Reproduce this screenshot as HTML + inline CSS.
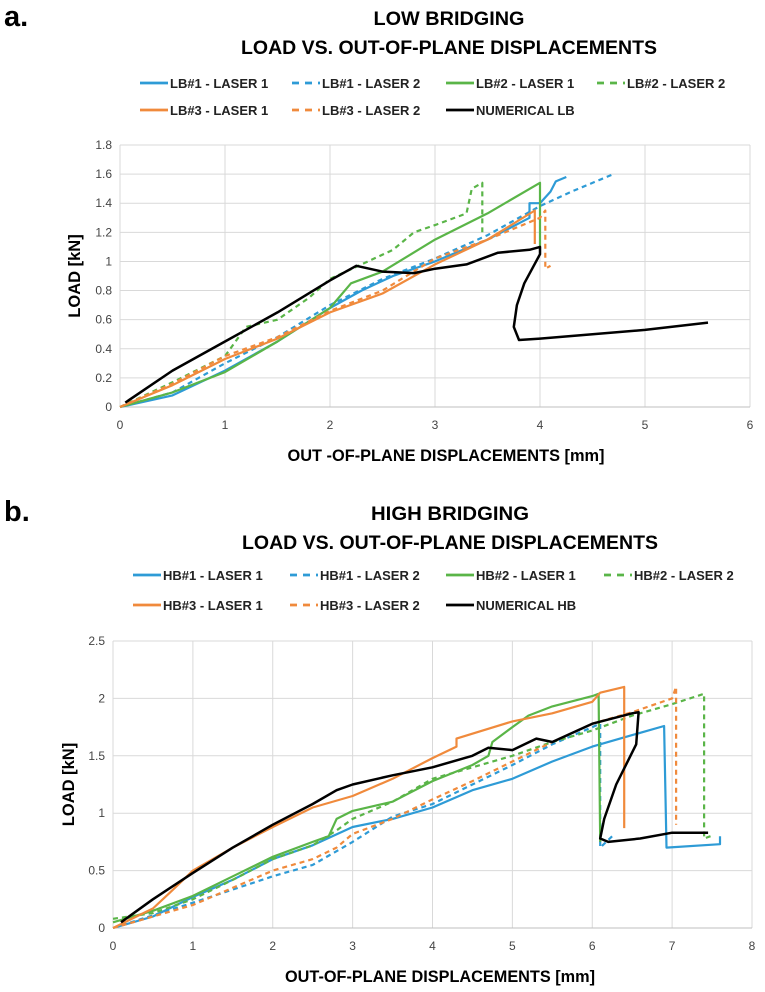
<!DOCTYPE html>
<html><head><meta charset="utf-8">
<style>
body{margin:0;background:#fff;width:765px;height:992px;overflow:hidden;font-family:"Liberation Sans",sans-serif}
svg{display:block}
</style></head>
<body>
<svg id="svg" width="765" height="992" xmlns="http://www.w3.org/2000/svg"></svg>
<script>
// ---- Chart A data ----
const aXTicks=[0,1,2,3,4,5,6];
const aYTicks=[0,0.2,0.4,0.6,0.8,1,1.2,1.4,1.6,1.8];
const aNames=["LB#1 - LASER 1","LB#1 - LASER 2","LB#2 - LASER 1","LB#2 - LASER 2","LB#3 - LASER 1","LB#3 - LASER 2","NUMERICAL LB"];
const aS1=[[0,0],[0.5,0.08],[1,0.25],[1.5,0.45],[2,0.68],[2.3,0.8],[2.6,0.9],[3,1.0],[3.5,1.15],[3.9,1.3],[3.9,1.4],[4.0,1.4],[4.1,1.48],[4.15,1.55],[4.25,1.58]];
const aS2=[[0,0],[0.5,0.1],[1,0.3],[1.5,0.48],[2,0.7],[2.5,0.88],[3,1.02],[3.5,1.18],[4,1.38],[4.3,1.48],[4.7,1.6]];
const aS3=[[0,0],[0.5,0.1],[1,0.24],[1.5,0.45],[2,0.68],[2.2,0.85],[2.5,0.93],[3,1.15],[3.5,1.33],[4,1.54],[4,1.1]];
const aS4=[[0,0],[0.5,0.17],[1,0.35],[1.2,0.55],[1.5,0.6],[1.8,0.75],[2,0.88],[2.3,0.98],[2.6,1.08],[2.8,1.2],[3,1.25],[3.3,1.33],[3.35,1.5],[3.45,1.54],[3.45,1.2]];
const aS5=[[0,0],[0.5,0.15],[1,0.33],[1.5,0.47],[2,0.65],[2.5,0.78],[3,0.98],[3.5,1.15],[3.95,1.35],[3.95,1.12]];
const aS6=[[0,0],[0.5,0.16],[1,0.35],[1.5,0.48],[2,0.66],[2.5,0.8],[3,1.02],[3.5,1.15],[4,1.3],[4.05,1.35],[4.05,0.95],[4.1,0.97]];
const aS7=[[0.05,0.03],[0.5,0.25],[1,0.45],[1.5,0.65],[2,0.87],[2.25,0.97],[2.5,0.93],[2.8,0.92],[3,0.95],[3.3,0.98],[3.6,1.06],[3.9,1.08],[4,1.1],[4,1.05],[3.85,0.85],[3.78,0.7],[3.75,0.55],[3.8,0.46],[4,0.47],[4.5,0.5],[5,0.53],[5.6,0.58]];
// ---- Chart B data ----
const bXTicks=[0,1,2,3,4,5,6,7,8];
const bYTicks=[0,0.5,1,1.5,2,2.5];
const bNames=["HB#1 - LASER 1","HB#1 - LASER 2","HB#2 - LASER 1","HB#2 - LASER 2","HB#3 - LASER 1","HB#3 - LASER 2","NUMERICAL HB"];
const bS1=[[0,0],[0.5,0.1],[1,0.27],[1.5,0.42],[2,0.6],[2.5,0.72],[3,0.88],[3.5,0.95],[4,1.05],[4.5,1.2],[5,1.3],[5.5,1.45],[6,1.58],[6.5,1.68],[6.9,1.76],[6.93,0.7],[7.6,0.73],[7.6,0.8]];
const bS2=[[0,0],[1,0.22],[2,0.45],[2.5,0.55],[3,0.75],[3.5,0.97],[4,1.08],[4.5,1.25],[5,1.42],[5.5,1.6],[6,1.75],[6.1,1.78],[6.1,0.7],[6.25,0.8]];
const bS3=[[0,0.05],[0.5,0.15],[1,0.28],[1.5,0.45],[2,0.62],[2.5,0.75],[2.7,0.8],[2.8,0.95],[3,1.02],[3.5,1.1],[4,1.28],[4.5,1.42],[4.7,1.5],[4.75,1.62],[5,1.75],[5.2,1.85],[5.5,1.93],[6,2.02],[6.08,2.04],[6.1,0.75]];
const bS4=[[0,0.08],[0.5,0.13],[1,0.25],[1.5,0.42],[2,0.6],[2.5,0.72],[2.8,0.85],[3,0.95],[3.5,1.1],[4,1.3],[4.5,1.4],[5,1.5],[5.5,1.62],[6,1.72],[6.5,1.85],[7,1.95],[7.4,2.04],[7.4,0.78],[7.48,0.8]];
const bS5=[[0,0],[0.5,0.17],[0.7,0.3],[1,0.5],[1.5,0.7],[2,0.88],[2.5,1.05],[3,1.15],[3.5,1.3],[4,1.48],[4.3,1.58],[4.3,1.65],[5,1.8],[5.5,1.87],[6,1.97],[6.1,2.05],[6.4,2.1],[6.4,0.87]];
const bS6=[[0,0],[1,0.2],[1.5,0.35],[2,0.5],[2.5,0.6],[2.8,0.7],[3,0.82],[3.5,0.95],[4,1.12],[4.5,1.28],[5,1.45],[5.5,1.62],[6,1.78],[6.5,1.88],[7,2.0],[7.05,2.1],[7.05,0.9]];
const bS7=[[0.1,0.05],[0.5,0.25],[1,0.48],[1.5,0.7],[2,0.9],[2.5,1.08],[2.8,1.2],[3,1.25],[3.5,1.33],[4,1.4],[4.5,1.5],[4.7,1.57],[5,1.55],[5.3,1.65],[5.5,1.62],[6,1.78],[6.5,1.87],[6.58,1.88],[6.55,1.6],[6.3,1.25],[6.15,0.95],[6.1,0.78],[6.2,0.75],[6.6,0.78],[7,0.83],[7.45,0.83]];

const COLORS=["#2e9bd6","#2e9bd6","#5ab548","#5ab548","#f08a3c","#f08a3c","#000"];
const DASH=[null,"5,4",null,"5,4",null,"5,4",null];
const NS="http://www.w3.org/2000/svg";
const svg=document.getElementById('svg');
function mk(tag,attrs,parent){const e=document.createElementNS(NS,tag);for(const k in attrs)e.setAttribute(k,attrs[k]);(parent||svg).appendChild(e);return e;}
function txt(s,attrs,parent){const e=mk('text',attrs,parent);e.textContent=s;return e;}

function chart(cfg){
  const g=mk('g',{});
  
  
  const sx=v=>cfg.x0+(v-cfg.xmin)/(cfg.xmax-cfg.xmin)*(cfg.x1-cfg.x0);
  const sy=v=>cfg.y0-(v-cfg.ymin)/(cfg.ymax-cfg.ymin)*(cfg.y0-cfg.y1);
  const lab=txt(cfg.letter,{x:4,y:cfg.titleY+8,'font-size':29,'font-weight':'bold',fill:'#000'},g);
  
  
  const t1=txt(cfg.title1,{x:cfg.tcx,y:cfg.titleY+7,'text-anchor':'middle','font-size':19,'font-weight':'bold',fill:'#000',textLength:cfg.t1w,lengthAdjust:'spacingAndGlyphs'},g);
  
  
  const t2=txt("LOAD VS. OUT-OF-PLANE DISPLACEMENTS",{x:cfg.tcx,y:cfg.titleY+36,'text-anchor':'middle','font-size':19,'font-weight':'bold',fill:'#000',textLength:416,lengthAdjust:'spacingAndGlyphs'},g);
  
  
  cfg.names.forEach((n,i)=>{
    const row=i<4?0:1, col=i<4?i:i-4;
    const lx=cfg.legX[col], ly=cfg.legY[row];
    const lg=mk('g',{},g);
    
    
    const ln=mk('line',{x1:lx,y1:ly,x2:lx+28,y2:ly,stroke:COLORS[i],'stroke-width':2.8},lg);
    if(DASH[i])ln.setAttribute('stroke-dasharray','7,6');
    txt(n,{x:lx+30,y:ly+5,'font-size':13,'font-weight':'bold',fill:'#222'},lg);
  });
  cfg.yt.forEach(v=>{
    const l=mk('line',{x1:cfg.x0,x2:cfg.x1,y1:sy(v),y2:sy(v),stroke:'#d9d9d9','stroke-width':1},g);
    
    
    const t=txt(String(v),{x:cfg.x0-8,y:sy(v)+4,'text-anchor':'end','font-size':12,fill:'#444'},g);
    
    
  });
  cfg.xt.forEach(v=>{
    const l=mk('line',{x1:sx(v),x2:sx(v),y1:cfg.y0,y2:cfg.y1,stroke:'#d9d9d9','stroke-width':1},g);
    
    
    const t=txt(String(v),{x:sx(v),y:cfg.y0+22,'text-anchor':'middle','font-size':12,fill:'#444'},g);
    
    
  });
  const xa=mk('line',{x1:cfg.x0,x2:cfg.x1,y1:cfg.y0,y2:cfg.y0,stroke:'#bfbfbf','stroke-width':1},g);
  
  
  const xt=txt(cfg.xtitle,{x:cfg.xtcx,y:cfg.y0+54,'text-anchor':'middle','font-size':16.5,'font-weight':'bold',fill:'#000',textLength:cfg.xtw,lengthAdjust:'spacingAndGlyphs'},g);
  
  
  const ym=(cfg.y0+cfg.y1)/2;
  const yt=txt("LOAD [kN]",{x:cfg.ytx,y:ym,'text-anchor':'middle','font-size':16.5,'font-weight':'bold',fill:'#000',transform:`rotate(-90 ${cfg.ytx} ${ym})`},g);
  
  
  cfg.series.forEach((s,i)=>{
    const p=mk('polyline',{points:s.map(d=>sx(d[0]).toFixed(1)+','+sy(d[1]).toFixed(1)).join(' '),fill:'none',stroke:COLORS[i],'stroke-width':i==6?2.5:2.2,'stroke-linejoin':'round'},g);
    if(DASH[i])p.setAttribute('stroke-dasharray',DASH[i]);
    
    
  });
}
chart({id:'low-bridging',letter:'a.',title1:'LOW BRIDGING',t1w:151,titleY:18,tcx:449,legX:[140,292,446,597],legY:[83,110],
  names:aNames,x0:120,x1:750,y0:407,y1:145,xmin:0,xmax:6,ymin:0,ymax:1.8,xt:aXTicks,yt:aYTicks,
  xtitle:'OUT -OF-PLANE DISPLACEMENTS [mm]',xtcx:446,xtw:317,ytx:80,series:[aS1,aS2,aS3,aS4,aS5,aS6,aS7]});
chart({id:'high-bridging',letter:'b.',title1:'HIGH BRIDGING',t1w:158,titleY:513,tcx:450,legX:[133,290,446,604],legY:[575,605],
  names:bNames,x0:113,x1:752,y0:928,y1:641,xmin:0,xmax:8,ymin:0,ymax:2.5,xt:bXTicks,yt:bYTicks,
  xtitle:'OUT-OF-PLANE DISPLACEMENTS [mm]',xtcx:440,xtw:310,ytx:74,series:[bS1,bS2,bS3,bS4,bS5,bS6,bS7]});
</script>
</body></html>
